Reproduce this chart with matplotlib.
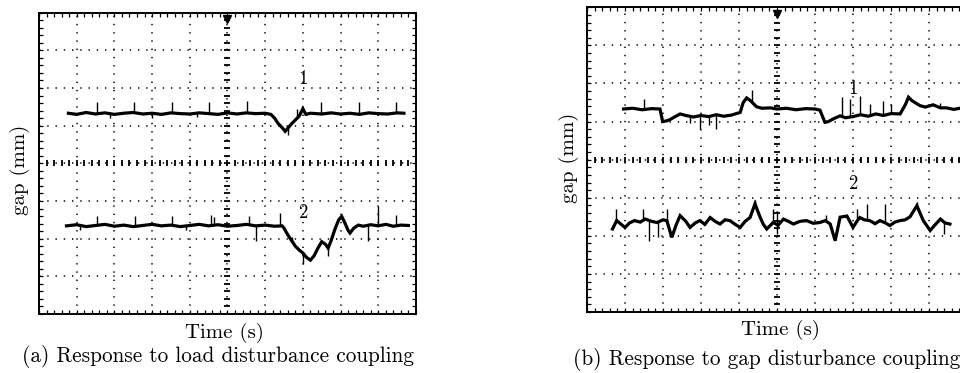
import numpy as np
import matplotlib
matplotlib.use("Agg")
import matplotlib.pyplot as plt
from matplotlib.ticker import MultipleLocator

plt.rcParams['font.family'] = ['cmr10', 'DejaVu Serif']
plt.rcParams['mathtext.fontset'] = 'cm'
plt.rcParams['axes.unicode_minus'] = False

# screen units are oscilloscope divisions: x 0..10, y -4..4

# (a) load disturbance, trace 1
a1_x = [0.78, 1.0, 1.25, 1.5, 1.75, 2.0, 2.25, 2.5, 2.75, 3.0, 3.25, 3.5, 3.75, 4.0, 4.25,
        4.5, 4.75, 5.0, 5.25, 5.5, 5.75, 6.0, 6.15, 6.25, 6.35, 6.45, 6.53, 6.6, 6.7,
        6.8, 6.9, 7.0, 7.08, 7.2, 7.5, 7.75, 8.0, 8.25, 8.5, 8.75, 9.0, 9.25, 9.5, 9.68]
a1_y = [1.33, 1.30, 1.35, 1.31, 1.34, 1.30, 1.33, 1.35, 1.31, 1.33, 1.30, 1.34, 1.32, 1.31, 1.34,
        1.32, 1.30, 1.34, 1.31, 1.34, 1.32, 1.33, 1.30, 1.20, 1.05, 0.95, 0.85, 0.93, 1.05,
        1.15, 1.25, 1.45, 1.30, 1.33, 1.31, 1.34, 1.31, 1.33, 1.30, 1.34, 1.32, 1.31, 1.34, 1.33]
a1_spk_x = [1.53, 2.51, 3.53, 4.51, 5.53, 6.85, 7.47, 8.49, 9.46, 1.88, 3.0, 4.2, 6.6]
a1_spk_tip = [1.64, 1.64, 1.62, 1.62, 1.65, 1.45, 1.62, 1.62, 1.62, 1.20, 1.21, 1.22, 0.75]

# (a) load disturbance, trace 2
a2_x = [0.73, 1.0, 1.25, 1.5, 1.75, 2.0, 2.25, 2.5, 2.75, 3.0, 3.25, 3.5, 3.75, 4.0, 4.25,
        4.5, 4.75, 5.0, 5.25, 5.5, 5.75, 6.0, 6.25, 6.45, 6.5, 6.6, 6.7, 6.8, 6.9, 7.0,
        7.1, 7.2, 7.3, 7.4, 7.5, 7.6, 7.67, 7.75, 7.85, 7.95, 8.03, 8.1, 8.2, 8.25, 8.35,
        8.47, 8.6, 8.8, 9.0, 9.2, 9.4, 9.6, 9.8]
a2_y = [-1.66, -1.63, -1.68, -1.65, -1.62, -1.67, -1.64, -1.68, -1.65, -1.62, -1.66, -1.64, -1.68, -1.65, -1.62,
        -1.66, -1.63, -1.67, -1.65, -1.62, -1.66, -1.64, -1.67, -1.66, -1.72, -1.90, -2.05, -2.20, -2.30, -2.38,
        -2.50, -2.57, -2.45, -2.25, -2.08, -2.15, -2.25, -2.05, -1.75, -1.50, -1.41, -1.55, -1.78, -1.85, -1.72,
        -1.64, -1.67, -1.63, -1.66, -1.62, -1.67, -1.64, -1.65]
a2_spk_x = [1.53, 2.55, 3.53, 4.55, 4.64, 5.58, 6.39, 8.99, 9.48, 5.76, 8.73, 7.0, 7.67, 6.7, 1.1, 3.9]
a2_spk_tip = [-1.40, -1.40, -1.40, -1.38, -1.42, -1.40, -1.32, -1.12, -1.37, -2.05, -2.05, -2.66, -2.45, -1.95, -1.78, -1.78]

# (b) gap disturbance, trace 1
b1_x = [0.96, 1.2, 1.45, 1.7, 1.92, 1.99, 2.1, 2.18, 2.3, 2.45, 2.6, 2.8, 3.0, 3.2, 3.4,
        3.6, 3.8, 4.03, 4.11, 4.2, 4.3, 4.46, 4.6, 4.82, 5.0, 5.25, 5.5, 5.75, 6.0, 6.13,
        6.26, 6.35, 6.5, 6.66, 6.8, 7.0, 7.2, 7.4, 7.6, 7.8, 8.0, 8.24, 8.38, 8.46, 8.55,
        8.76, 8.9, 9.11, 9.3, 9.46, 9.65, 9.82, 10.0]
b1_y = [1.33, 1.35, 1.31, 1.34, 1.33, 1.00, 1.02, 1.05, 1.12, 1.20, 1.16, 1.12, 1.16, 1.13, 1.18,
        1.14, 1.17, 1.24, 1.50, 1.62, 1.55, 1.39, 1.35, 1.36, 1.33, 1.35, 1.31, 1.34, 1.33, 1.30,
        0.98, 1.00, 1.08, 1.15, 1.10, 1.13, 1.18, 1.14, 1.20, 1.16, 1.21, 1.20, 1.45, 1.64, 1.55,
        1.42, 1.38, 1.44, 1.36, 1.36, 1.32, 1.35, 1.33]
b1_spk_x = [1.51, 4.33, 6.7, 6.92, 7.18, 7.45, 7.8, 8.0, 2.97, 3.4, 2.7, 3.2, 9.3]
b1_spk_tip = [1.60, 1.83, 1.64, 1.58, 1.66, 1.45, 1.55, 1.45, 0.80, 0.80, 0.95, 0.90, 1.48]

# (b) gap disturbance, trace 2
b2_x = [0.67, 0.78, 0.9, 1.0, 1.12, 1.25, 1.4, 1.53, 1.7, 1.84, 2.0, 2.1, 2.23, 2.35, 2.45,
        2.6, 2.71, 2.85, 2.97, 3.1, 3.24, 3.37, 3.5, 3.63, 3.76, 3.9, 4.03, 4.16, 4.29,
        4.42, 4.55, 4.64, 4.73, 4.9, 5.03, 5.17, 5.3, 5.43, 5.6, 5.78, 5.95, 6.13, 6.27,
        6.4, 6.53, 6.66, 6.84, 7.0, 7.1, 7.18, 7.3, 7.44, 7.58, 7.71, 7.85, 7.97, 8.1,
        8.24, 8.37, 8.5, 8.68, 8.85, 9.03, 9.15, 9.3, 9.42, 9.55]
b2_y = [-1.82, -1.60, -1.70, -1.78, -1.66, -1.60, -1.64, -1.56, -1.62, -1.65, -1.58, -1.60, -2.04, -1.70, -1.47,
        -1.62, -1.78, -1.66, -1.60, -1.70, -1.52, -1.62, -1.69, -1.58, -1.60, -1.70, -1.78, -1.62, -1.52,
        -1.16, -1.50, -1.70, -1.82, -1.65, -1.72, -1.56, -1.62, -1.69, -1.62, -1.60, -1.67, -1.65, -1.60,
        -1.69, -2.13, -1.51, -1.48, -1.78, -1.62, -1.52, -1.58, -1.60, -1.68, -1.60, -1.66, -1.73, -1.64,
        -1.60, -1.58, -1.50, -1.21, -1.60, -1.86, -1.72, -1.56, -1.66, -1.69]
b2_spk_x = [0.76, 1.48, 2.1, 4.42, 4.9, 5.0, 7.1, 7.36, 7.84, 8.68, 1.62, 1.88, 5.0, 9.4, 6.3]
b2_spk_tip = [-1.30, -1.30, -1.30, -1.05, -1.30, -1.35, -1.30, -1.17, -1.17, -1.12, -2.13, -2.04, -1.95, -1.95, -1.45]

panels = [
    dict(pos=[0.0406, 0.1582, 0.3927, 0.8078],
         traces=[(a1_x, a1_y, a1_spk_x, a1_spk_tip), (a2_x, a2_y, a2_spk_x, a2_spk_tip)],
         labels=[(7.0, 2.25, '1'), (7.0, -1.32, '2')],
         ylab=(0.021, 0.544), xlab=(0.234, 0.107),
         caption=(0.227, 0.043, '(a) Response to load disturbance coupling')),
    dict(pos=[0.6115, 0.1635, 0.3958, 0.8169],
         traces=[(b1_x, b1_y, b1_spk_x, b1_spk_tip), (b2_x, b2_y, b2_spk_x, b2_spk_tip)],
         labels=[(6.99, 1.85, '1'), (7.0, -0.64, '2')],
         ylab=(0.593, 0.576), xlab=(0.8125, 0.115),
         caption=(0.799, 0.035, '(b) Response to gap disturbance coupling')),
]

fig = plt.figure(figsize=(9.6, 3.73), dpi=100)

for p in panels:
    ax = fig.add_axes(p['pos'])
    ax.set_xlim(0, 10)
    ax.set_ylim(-4, 4)
    ax.xaxis.set_major_locator(MultipleLocator(1))
    ax.yaxis.set_major_locator(MultipleLocator(1))
    ax.xaxis.set_minor_locator(MultipleLocator(0.2))
    ax.yaxis.set_minor_locator(MultipleLocator(0.2))
    ax.tick_params(which='both', direction='in', top=True, right=True,
                   length=3, width=0.9, labelbottom=False, labelleft=False)
    for s in ax.spines.values():
        s.set_linewidth(1.4)
    ax.grid(True, which='major', color='black', linewidth=1.1,
            linestyle=(0, (0.9, 4.5)))

    # centre graticule lines with finer marks
    cy = np.arange(-3.8, 3.81, 0.2)
    ax.plot(np.full_like(cy, 5.0), cy, ls='none', marker='_', ms=5, mew=1.3, color='black')
    cx = np.arange(0.2, 9.81, 0.2)
    ax.plot(cx, np.zeros_like(cx), ls='none', marker='|', ms=4, mew=1.3, color='black')
    ax.plot([5.0], [3.82], marker='v', ms=6, color='black', ls='none')

    for tx, ty, sx, st in p['traces']:
        ax.plot(tx, ty, color='black', linewidth=2.3, solid_joinstyle='miter')
        base = np.interp(sx, tx, ty)
        ax.vlines(sx, base, st, color='black', linewidth=1.0)

    for lx, ly, lt in p['labels']:
        ax.text(lx, ly, lt, ha='center', va='center', fontsize=13.5)

    fig.text(p['ylab'][0], p['ylab'][1], 'gap (mm)', rotation=90, ha='center', va='center', fontsize=15)
    fig.text(p['xlab'][0], p['xlab'][1], 'Time (s)', ha='center', va='center', fontsize=15)
    fig.text(p['caption'][0], p['caption'][1], p['caption'][2], ha='center', va='center', fontsize=15.3)

fig.savefig('out.png', dpi=100)
